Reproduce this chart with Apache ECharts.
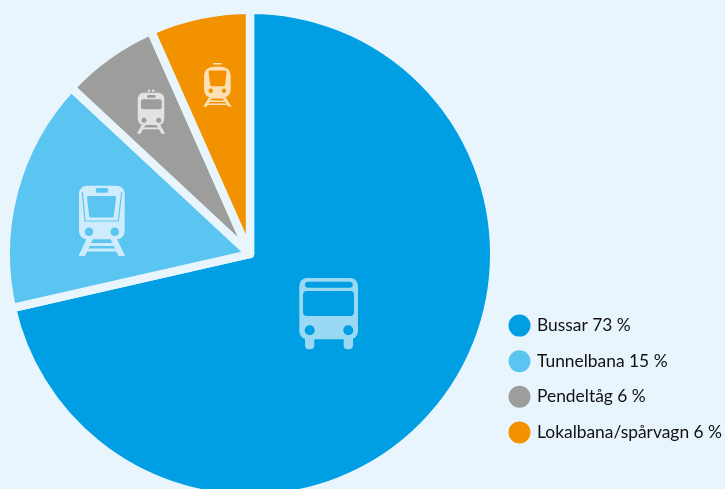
<!DOCTYPE html>
<html>
<head>
<meta charset="utf-8">
<script src="https://cdn.jsdelivr.net/npm/echarts@6/dist/echarts.min.js"></script>
<style>
  html, body { margin: 0; padding: 0; background: #e8f5fd; }
  #chart { width: 725px; height: 489px; }
</style>
</head>
<body>
<div id="chart"></div>
<script>
const bg = "#e8f5fd";
const categories = ["Bussar", "Tunnelbana", "Pendeltåg", "Lokalbana/spårvagn"];
const statedShares = ["73 %", "15 %", "6 %", "6 %"]; // as printed in the legend
const sliceSizes = [71.44, 15.49, 6.42, 6.65];
const colors = ["#009fe3", "#5bc5f2", "#9d9d9c", "#f39200"];

const labels = categories.map((c, i) => c + " " + statedShares[i]);

// icon helpers, x/y are page pixels. z has to sit above the pie (series z is 2)
function box(x0, y0, x1, y1, r, fill, z) {
  return { type: "rect", z: z || 10, shape: { x: x0, y: y0, width: x1 - x0, height: y1 - y0, r: r }, style: { fill: fill } };
}
function dot(x, y, r, fill) {
  return { type: "circle", z: 11, shape: { cx: x, cy: y, r: r }, style: { fill: fill } };
}
function poly(points, fill) {
  return { type: "polygon", z: 11, shape: { points: points }, style: { fill: fill } };
}
// window shape, the stroke rounds its corners
function pane(points, fill) {
  return { type: "polygon", z: 12, shape: { points: points }, style: { fill: fill, stroke: fill, lineWidth: 3, lineJoin: "round" } };
}
function line(points, width, color) {
  return { type: "polyline", z: 11, shape: { points: points }, style: { stroke: color, lineWidth: width, fill: null } };
}

function busIcon(fg, hole) {
  return [
    box(299.3, 278, 358, 339.3, 8, fg),
    box(305, 281.7, 352.7, 287.7, 3, hole, 11),
    box(303, 291, 354, 316, 4, hole, 11),
    dot(309.7, 330.3, 5, hole),
    dot(348.3, 330.3, 5, hole),
    box(305, 335, 314.3, 349.3, 4, fg),
    box(343.7, 335, 353, 349.3, 4, fg),
  ];
}

function metroIcon(fg, hole) {
  return [
    box(79, 185.7, 124.7, 239.3, 8, fg),
    box(95.7, 188, 108.3, 192.7, 2, hole, 11),
    line([[82.3, 192], [85, 221], [118.3, 221], [121.7, 192]], 1.2, hole),
    pane([[88.5, 197.5], [114.5, 197.5], [112.3, 216], [90.7, 216]], hole),
    dot(89, 231.7, 4.3, hole),
    dot(114.7, 231.7, 4.3, hole),
    poly([[86.5, 239], [93, 239], [85, 256], [78.5, 256]], fg),
    poly([[110.5, 239], [117, 239], [125, 256], [118.5, 256]], fg),
    box(88, 243, 115, 246, 0, fg),
    box(84, 248.5, 120, 251.5, 0, fg),
  ];
}

function commuterIcon(fg, hole) {
  return [
    box(137.7, 92.7, 164.3, 125, 6, fg),
    dot(149, 90.7, 1.3, fg),
    dot(153.3, 90.7, 1.3, fg),
    box(147, 95, 155.5, 97.7, 1, hole, 11),
    box(141, 99.3, 161.7, 109.3, 2.5, hole, 11),
    dot(144, 120.3, 2.5, hole),
    dot(158.7, 120.3, 2.5, hole),
    poly([[141.5, 125], [145.5, 125], [140.5, 133.7], [137, 133.7]], fg),
    poly([[156.5, 125], [160.5, 125], [165, 133.7], [161.5, 133.7]], fg),
    box(142, 127.5, 160, 129.3, 0, fg),
  ];
}

function tramIcon(fg, hole) {
  return [
    box(213.3, 63, 221.7, 64.5, 0, fg),
    box(204, 66.7, 230.7, 98.5, 9, fg),
    pane([[210, 72], [225, 72], [223.7, 84.7], [211.7, 84.7]], hole),
    dot(210.7, 90.7, 2.2, hole),
    dot(224, 90.7, 2.2, hole),
    poly([[208.5, 98], [212, 98], [206.5, 106.7], [203.3, 106.7]], fg),
    poly([[222.5, 98], [226, 98], [231.7, 106.7], [228.5, 106.7]], fg),
    box(208, 100.5, 227, 102, 0, fg),
    box(206, 103.5, 229, 105, 0, fg),
  ];
}

var myChart = echarts.init(document.getElementById("chart"));
var option = {
  backgroundColor: bg,
  animation: false,
  color: colors,
  legend: {
    orient: "vertical",
    left: 501.5,
    top: 307.6,
    itemWidth: 24,
    itemHeight: 24,
    itemGap: 9.6,
    icon: "circle",
    data: labels,
    textStyle: { fontFamily: "Lato", fontSize: 17.4, lineHeight: 19, color: "#111111", padding: [0, 0, 0, 0.5] },
  },
  series: [
    {
      type: "pie",
      center: [250, 254],
      radius: [0, 244.2],
      startAngle: 90,
      clockwise: true,
      silent: true,
      label: { show: false },
      labelLine: { show: false },
      itemStyle: { borderColor: bg, borderWidth: 8.4 },
      data: labels.map((name, i) => ({ name: name, value: sliceSizes[i] })),
    },
  ],
  graphic: [
    { type: "group", silent: true, children: busIcon("#99d9f4", colors[0]) },
    { type: "group", silent: true, children: metroIcon("#ceecfb", colors[1]) },
    { type: "group", silent: true, children: commuterIcon("#e2e2e2", colors[2]) },
    { type: "group", silent: true, children: tramIcon("#fde0b5", colors[3]) },
  ],
};
option && myChart.setOption(option);
</script>
</body>
</html>
